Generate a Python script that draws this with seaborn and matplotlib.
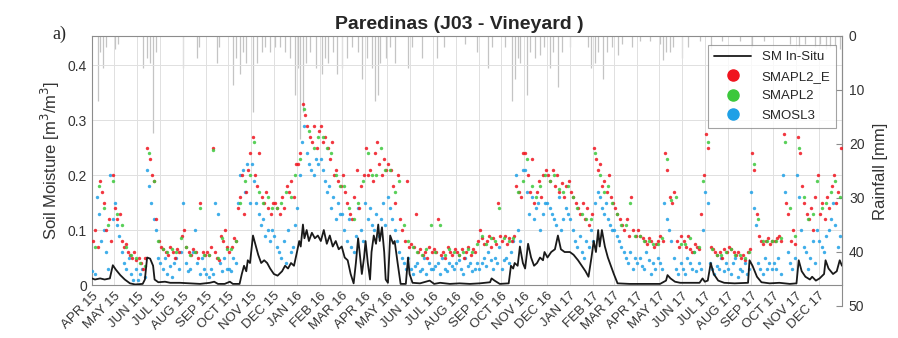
import matplotlib
matplotlib.use("Agg")
import matplotlib.pyplot as plt
from matplotlib.lines import Line2D
import numpy as np
import pandas as pd
import seaborn as sns

start = pd.Timestamp("2015-04-01")
end = pd.Timestamp("2018-01-01")
months = pd.date_range("2015-04-01", "2017-12-01", freq="MS")

# in-situ soil moisture: days after 2015-04-01 and value (m3/m3)
insitu_day = [0, 4, 11, 17, 24, 28, 32, 38, 44, 51, 58, 68, 71, 74, 78, 82, 84, 89, 98, 105,
              118, 131, 145, 158, 164, 169, 178, 185, 189, 198, 201, 204, 207, 209, 212, 216, 220, 223, 227, 231,
              235, 239, 244, 249, 255, 259, 263, 267, 271, 275, 278, 280, 283, 285, 288, 291, 295, 299, 303, 307,
              311, 315, 319, 323, 327, 331, 335, 339, 343, 347, 351, 354, 357, 359, 362, 365, 367, 370, 373, 375,
              378, 381, 384, 386, 389, 392, 394, 397, 400, 404, 406, 410, 414, 421, 424, 426, 430, 440, 453, 459,
              467, 480, 493, 507, 520, 534, 536, 540, 547, 559, 562, 565, 567, 571, 574, 578, 581, 585, 589, 593,
              597, 601, 605, 607, 611, 616, 621, 625, 629, 634, 641, 646, 652, 657, 662, 666, 670, 673, 676, 679,
              681, 684, 688, 692, 696, 700, 705, 721, 748, 762, 770, 772, 776, 782, 789, 802, 815, 819, 822, 826,
              830, 834, 840, 848, 862, 880, 882, 886, 892, 898, 909, 922, 936, 945, 948, 952, 957, 963, 966, 971,
              976, 982, 984, 988, 994, 999, 1003, 1006]
insitu_sm = [0.012, 0.010, 0.012, 0.010, 0.012, 0.036, 0.028, 0.018, 0.010, 0.003, 0.001, 0.002, 0.010, 0.050, 0.048, 0.035, 0.010, 0.005, 0.006, 0.004,
             0.004, 0.003, 0.002, 0.004, 0.006, 0.002, 0.002, 0.006, 0.002, 0.002, 0.020, 0.035, 0.025, 0.045, 0.040, 0.090, 0.070, 0.055, 0.040, 0.045,
             0.040, 0.030, 0.020, 0.017, 0.025, 0.035, 0.030, 0.040, 0.035, 0.060, 0.080, 0.070, 0.110, 0.085, 0.100, 0.080, 0.095, 0.085, 0.090, 0.080,
             0.100, 0.075, 0.090, 0.070, 0.080, 0.065, 0.070, 0.050, 0.045, 0.020, 0.003, 0.040, 0.085, 0.060, 0.020, 0.050, 0.080, 0.040, 0.010, 0.060,
             0.090, 0.075, 0.110, 0.080, 0.105, 0.060, 0.010, 0.004, 0.090, 0.075, 0.080, 0.040, 0.002, 0.002, 0.050, 0.020, 0.004, 0.003, 0.008, 0.002,
             0.004, 0.002, 0.003, 0.002, 0.003, 0.005, 0.012, 0.008, 0.002, 0.003, 0.035, 0.030, 0.040, 0.035, 0.070, 0.040, 0.030, 0.075, 0.050, 0.035,
             0.040, 0.050, 0.045, 0.060, 0.050, 0.060, 0.065, 0.090, 0.065, 0.060, 0.060, 0.055, 0.045, 0.035, 0.025, 0.015, 0.050, 0.080, 0.060, 0.100,
             0.070, 0.100, 0.070, 0.050, 0.035, 0.020, 0.003, 0.002, 0.002, 0.002, 0.008, 0.018, 0.012, 0.006, 0.004, 0.004, 0.004, 0.012, 0.006, 0.008,
             0.040, 0.020, 0.008, 0.004, 0.003, 0.004, 0.045, 0.035, 0.015, 0.005, 0.003, 0.004, 0.002, 0.003, 0.045, 0.025, 0.015, 0.010, 0.015, 0.008,
             0.012, 0.020, 0.045, 0.030, 0.020, 0.025, 0.045, 0.035]

# daily rainfall events: days after 2015-04-01 and mm
rain_day = [8, 11, 15, 19, 31, 35, 68, 74, 78, 82, 86, 122, 141, 143, 168, 170, 189, 193, 198, 202,
            207, 216, 221, 228, 232, 239, 245, 252, 259, 266, 272, 276, 279, 283, 287, 292, 300, 308, 313, 316,
            323, 329, 335, 342, 349, 357, 362, 369, 375, 380, 384, 386, 394, 400, 406, 424, 429, 443, 463, 472,
            500, 516, 531, 536, 554, 563, 567, 571, 574, 583, 587, 594, 601, 607, 614, 618, 625, 630, 641, 665,
            670, 675, 679, 685, 691, 697, 705, 711, 725, 735, 748, 762, 766, 770, 775, 779, 791, 799, 815, 831,
            845, 869, 885, 902, 936, 949, 956, 970, 976, 984, 990, 996, 1003]
rain_mm = [12, 3, 6, 2, 2.5, 1.5, 6, 4, 5, 18, 3, 6, 4, 2, 5, 2, 9, 4, 7, 3,
           5, 14, 5, 3, 2, 3, 2, 2, 3, 4, 11, 6, 19, 14, 5, 3, 6, 7, 4, 5,
           3, 7, 6, 4, 2, 3, 8, 4, 6, 12, 11, 5, 4, 2, 5, 6, 2, 4, 4, 2,
           1.5, 3, 6, 2, 2, 12, 8, 4, 5, 11, 3, 4, 3.5, 2, 6, 3, 9.5, 3, 2, 2,
           6, 5, 3, 8, 3, 2, 3.5, 1.5, 2, 1, 1, 1.5, 4.5, 3, 3, 2, 4, 2, 1, 2.5,
           1, 1, 2, 1, 1.5, 2, 1.5, 2, 1.5, 2.5, 2, 2, 2.5]

# satellite retrievals, one list per month (Apr 2015 .. Dec 2017)
smapl2_e = [
    [0.08, 0.10, 0.07, 0.19, 0.17, 0.15, 0.10, 0.12, 0.08, 0.20],
    [0.14, 0.12, 0.13, 0.08, 0.07, 0.075, 0.06, 0.055, 0.05, 0.06, 0.045],
    [0.05, 0.04, 0.03, 0.05, 0.25, 0.23, 0.20, 0.19, 0.12, 0.08],
    [0.07, 0.065, 0.06, 0.055, 0.07, 0.06, 0.05, 0.065, 0.06, 0.09],
    [0.10, 0.07, 0.06, 0.055, 0.065, 0.06, 0.05, 0.15, 0.06, 0.055],
    [0.06, 0.055, 0.07, 0.25, 0.06, 0.05, 0.045, 0.09, 0.08, 0.10, 0.07],
    [0.06, 0.07, 0.085, 0.08, 0.14, 0.16, 0.20, 0.13, 0.17, 0.21, 0.24],
    [0.27, 0.20, 0.18, 0.24, 0.16, 0.15, 0.17, 0.14, 0.13, 0.15],
    [0.15, 0.14, 0.13, 0.16, 0.14, 0.18, 0.17, 0.19, 0.16, 0.22],
    [0.22, 0.24, 0.33, 0.31, 0.29, 0.27, 0.26, 0.29, 0.25, 0.28],
    [0.29, 0.26, 0.27, 0.25, 0.23, 0.26, 0.20, 0.21, 0.19, 0.18],
    [0.20, 0.17, 0.15, 0.13, 0.12, 0.16, 0.21, 0.14, 0.18, 0.20],
    [0.25, 0.20, 0.21, 0.19, 0.24, 0.26, 0.22, 0.20, 0.23, 0.21],
    [0.22, 0.21, 0.18, 0.15, 0.20, 0.12, 0.10, 0.08, 0.19, 0.07],
    [0.075, 0.07, 0.13, 0.06, 0.065, 0.055, 0.06, 0.05, 0.07, 0.06],
    [0.065, 0.06, 0.12, 0.055, 0.06, 0.05, 0.07, 0.06, 0.055, 0.065],
    [0.06, 0.055, 0.065, 0.05, 0.06, 0.07, 0.055, 0.065, 0.06, 0.08],
    [0.10, 0.085, 0.075, 0.08, 0.09, 0.07, 0.085, 0.075, 0.15, 0.09],
    [0.08, 0.09, 0.075, 0.085, 0.08, 0.09, 0.18, 0.17, 0.16, 0.24],
    [0.24, 0.20, 0.17, 0.23, 0.15, 0.17, 0.19, 0.16, 0.20, 0.21],
    [0.20, 0.19, 0.21, 0.18, 0.20, 0.17, 0.185, 0.16, 0.18, 0.19],
    [0.17, 0.16, 0.15, 0.14, 0.13, 0.15, 0.12, 0.14, 0.11, 0.13],
    [0.25, 0.23, 0.21, 0.22, 0.18, 0.19, 0.17, 0.20, 0.16, 0.15],
    [0.14, 0.13, 0.12, 0.11, 0.10, 0.12, 0.09, 0.16, 0.10, 0.09],
    [0.10, 0.09, 0.085, 0.08, 0.075, 0.085, 0.08, 0.07, 0.075, 0.08],
    [0.09, 0.08, 0.24, 0.21, 0.16, 0.15, 0.17, 0.08, 0.07, 0.09],
    [0.08, 0.07, 0.09, 0.065, 0.06, 0.075, 0.07, 0.065, 0.13, 0.20],
    [0.275, 0.25, 0.07, 0.065, 0.06, 0.055, 0.06, 0.05, 0.065, 0.06],
    [0.07, 0.065, 0.06, 0.055, 0.06, 0.05, 0.055, 0.045, 0.06, 0.065],
    [0.24, 0.21, 0.13, 0.09, 0.08, 0.075, 0.08, 0.085, 0.075, 0.08],
    [0.08, 0.085, 0.09, 0.08, 0.275, 0.15, 0.13, 0.08, 0.10, 0.075],
    [0.27, 0.24, 0.18, 0.15, 0.13, 0.12, 0.14, 0.10, 0.16, 0.20],
    [0.13, 0.15, 0.12, 0.16, 0.14, 0.18, 0.20, 0.15, 0.17, 0.25],
]
smapl2 = [
    [0.07, 0.18, 0.14, 0.11, 0.19], [0.13, 0.11, 0.07, 0.055, 0.05], [0.04, 0.035, 0.24, 0.19, 0.08],
    [0.065, 0.06, 0.065, 0.06, 0.085], [0.07, 0.055, 0.06, 0.14, 0.055], [0.055, 0.245, 0.05, 0.085, 0.065],
    [0.065, 0.08, 0.15, 0.19, 0.20], [0.26, 0.17, 0.15, 0.16, 0.14], [0.14, 0.15, 0.17, 0.16, 0.20],
    [0.23, 0.32, 0.28, 0.25, 0.27], [0.27, 0.25, 0.24, 0.20, 0.18], [0.18, 0.14, 0.12, 0.15, 0.19],
    [0.24, 0.20, 0.20, 0.25, 0.21], [0.21, 0.17, 0.19, 0.11, 0.08], [0.07, 0.06, 0.055, 0.065, 0.11],
    [0.06, 0.11, 0.055, 0.065, 0.06], [0.055, 0.06, 0.065, 0.06, 0.075], [0.09, 0.075, 0.085, 0.08, 0.14],
    [0.085, 0.08, 0.085, 0.17, 0.19], [0.23, 0.18, 0.16, 0.18, 0.20], [0.19, 0.20, 0.175, 0.17, 0.18],
    [0.16, 0.14, 0.13, 0.12, 0.12], [0.24, 0.20, 0.17, 0.18, 0.15], [0.13, 0.11, 0.11, 0.15, 0.09],
    [0.09, 0.08, 0.08, 0.075, 0.075], [0.085, 0.23, 0.155, 0.16, 0.075], [0.075, 0.085, 0.06, 0.07, 0.19],
    [0.26, 0.065, 0.055, 0.055, 0.06], [0.065, 0.055, 0.055, 0.05, 0.06], [0.22, 0.12, 0.08, 0.08, 0.08],
    [0.08, 0.085, 0.26, 0.14, 0.09], [0.25, 0.16, 0.12, 0.13, 0.19], [0.14, 0.15, 0.17, 0.19, 0.16],
]
smosl3 = [
    [0.025, 0.02, 0.16, 0.13, 0.08, 0.10, 0.06, 0.03, 0.20, 0.12],
    [0.15, 0.11, 0.09, 0.06, 0.04, 0.03, 0.05, 0.02, 0.01, 0.03],
    [0.01, 0.02, 0.03, 0.015, 0.21, 0.18, 0.15, 0.12, 0.10, 0.05],
    [0.04, 0.03, 0.05, 0.02, 0.035, 0.015, 0.04, 0.05, 0.03, 0.06],
    [0.15, 0.04, 0.025, 0.03, 0.06, 0.10, 0.04, 0.02, 0.05, 0.03],
    [0.02, 0.015, 0.03, 0.02, 0.15, 0.13, 0.04, 0.025, 0.05, 0.03],
    [0.03, 0.025, 0.05, 0.04, 0.15, 0.20, 0.21, 0.17, 0.22, 0.15],
    [0.22, 0.19, 0.15, 0.13, 0.11, 0.12, 0.09, 0.10, 0.08, 0.10],
    [0.09, 0.07, 0.06, 0.05, 0.08, 0.04, 0.10, 0.06, 0.07, 0.11],
    [0.14, 0.20, 0.26, 0.29, 0.24, 0.22, 0.21, 0.20, 0.23, 0.22],
    [0.23, 0.21, 0.19, 0.17, 0.18, 0.14, 0.16, 0.12, 0.15, 0.13],
    [0.13, 0.10, 0.08, 0.12, 0.07, 0.06, 0.09, 0.14, 0.10, 0.08],
    [0.15, 0.12, 0.14, 0.11, 0.10, 0.13, 0.09, 0.12, 0.15, 0.11],
    [0.16, 0.14, 0.12, 0.10, 0.08, 0.06, 0.05, 0.04, 0.03, 0.05],
    [0.03, 0.02, 0.035, 0.04, 0.025, 0.03, 0.05, 0.02, 0.04, 0.03],
    [0.03, 0.035, 0.04, 0.02, 0.05, 0.03, 0.025, 0.04, 0.035, 0.03],
    [0.04, 0.045, 0.03, 0.02, 0.05, 0.035, 0.04, 0.025, 0.03, 0.04],
    [0.03, 0.04, 0.05, 0.035, 0.06, 0.045, 0.03, 0.05, 0.04, 0.07],
    [0.03, 0.045, 0.05, 0.04, 0.06, 0.08, 0.20, 0.10, 0.08, 0.21],
    [0.21, 0.17, 0.13, 0.16, 0.12, 0.14, 0.15, 0.10, 0.13, 0.15],
    [0.15, 0.14, 0.13, 0.12, 0.11, 0.16, 0.10, 0.12, 0.14, 0.13],
    [0.12, 0.10, 0.08, 0.07, 0.09, 0.06, 0.05, 0.08, 0.07, 0.10],
    [0.08, 0.15, 0.17, 0.16, 0.14, 0.13, 0.15, 0.12, 0.11, 0.10],
    [0.10, 0.09, 0.08, 0.07, 0.06, 0.05, 0.04, 0.06, 0.03, 0.05],
    [0.04, 0.05, 0.035, 0.03, 0.06, 0.045, 0.02, 0.04, 0.03, 0.05],
    [0.04, 0.03, 0.15, 0.12, 0.10, 0.08, 0.05, 0.03, 0.02, 0.04],
    [0.03, 0.02, 0.05, 0.04, 0.03, 0.06, 0.025, 0.04, 0.03, 0.10],
    [0.17, 0.15, 0.04, 0.03, 0.02, 0.035, 0.03, 0.05, 0.025, 0.04],
    [0.03, 0.02, 0.04, 0.05, 0.015, 0.03, 0.025, 0.04, 0.02, 0.03],
    [0.17, 0.14, 0.11, 0.04, 0.03, 0.02, 0.05, 0.03, 0.04, 0.03],
    [0.04, 0.03, 0.05, 0.02, 0.20, 0.17, 0.06, 0.04, 0.03, 0.05],
    [0.20, 0.16, 0.10, 0.07, 0.06, 0.03, 0.05, 0.08, 0.04, 0.10],
    [0.08, 0.07, 0.06, 0.09, 0.10, 0.12, 0.15, 0.11, 0.07, 0.09],
]

colors = {"SMAPL2_E": "#f0141e", "SMAPL2": "#3cc83c", "SMOSL3": "#1ea0e6"}


def monthly_frame(values, name, offset):
    rows = []
    for m, vals in zip(months, values):
        mlen = (m + pd.offsets.MonthBegin(1) - m).days
        n = len(vals)
        for k, v in enumerate(vals):
            rows.append((m + pd.Timedelta(days=(k + offset) * mlen / n), v, name))
    return pd.DataFrame(rows, columns=["date", "sm", "product"])


sat = pd.concat([
    monthly_frame(smosl3, "SMOSL3", 0.2),
    monthly_frame(smapl2_e, "SMAPL2_E", 0.5),
    monthly_frame(smapl2, "SMAPL2", 0.6),
])
insitu = pd.DataFrame({"date": start + pd.to_timedelta(insitu_day, unit="D"), "sm": insitu_sm})
rain = pd.DataFrame({"date": start + pd.to_timedelta(rain_day, unit="D"), "mm": rain_mm})

sns.set_style("white")
plt.rcParams["font.family"] = ["Liberation Sans", "DejaVu Sans"]

fig = plt.figure(figsize=(8.98, 3.38), dpi=100)
ax = fig.add_axes([0.1024, 0.1568, 0.8352, 0.7367])
ax2 = fig.add_axes([0.1024, 0.0947, 0.8352, 0.7988])

# rainfall hanging from the top on its own (taller) axis
ax2.vlines(rain["date"], 0, rain["mm"], color="#c4c4c4", lw=0.9)
ax2.set_ylim(50, 0)
ax2.set_xlim(start, end)
ax2.yaxis.tick_right()
ax2.yaxis.set_label_position("right")
ax2.set_yticks([0, 10, 20, 30, 40, 50])
ax2.set_xticks([])
for s in ["left", "top", "bottom"]:
    ax2.spines[s].set_visible(False)
ax2.spines["right"].set_color("#8c8c8c")
ax2.tick_params(axis="y", direction="in", length=4, colors="#8c8c8c", labelcolor="#333333", labelsize=10, pad=5)
ax2.set_ylabel("Rainfall [mm]", fontsize=12, color="#333333", labelpad=6)

ax.set_zorder(ax2.get_zorder() + 1)
ax.patch.set_visible(False)

for name in ["SMOSL3", "SMAPL2_E", "SMAPL2"]:
    sns.scatterplot(data=sat[sat["product"] == name], x="date", y="sm", color=colors[name],
                    s=6, linewidth=0, alpha=0.85, ax=ax, legend=False, zorder=3)
sns.lineplot(data=insitu, x="date", y="sm", color="#1a1a1a", lw=1.3, ax=ax, zorder=4)

ax.set_xlim(start, end)
ax.set_ylim(0, 0.453)
ax.set_yticks([0, 0.1, 0.2, 0.3, 0.4])
ax.set_yticklabels(["0", "0.1", "0.2", "0.3", "0.4"])
ax.set_xticks(months)
ax.set_xticklabels([m.strftime("%b %y").upper() for m in months], rotation=45, ha="right",
                   rotation_mode="anchor", fontsize=9.5)
ax.grid(True, color="#e0e0e0", lw=0.7)
for s in ax.spines.values():
    s.set_color("#8c8c8c")
    s.set_linewidth(0.8)
ax.tick_params(axis="both", direction="in", length=3, colors="#8c8c8c", labelcolor="#333333")
ax.tick_params(axis="y", labelsize=10)
ax.set_xlabel("")
ax.set_ylabel("Soil Moisture [m$^3$/m$^3$]", fontsize=12, color="#333333", labelpad=4)
ax.set_title("Paredinas (J03 - Vineyard )", fontsize=14, fontweight="bold", pad=5, x=0.49)
fig.text(0.058, 0.885, "a)", fontsize=13, family="Liberation Serif")

handles = [Line2D([0], [0], color="#1a1a1a", lw=1.3, label="SM In-Situ")]
for name in ["SMAPL2_E", "SMAPL2", "SMOSL3"]:
    handles.append(Line2D([0], [0], marker="o", ls="", color=colors[name], markersize=8, label=name))
leg = ax.legend(handles=handles, loc="upper right", bbox_to_anchor=(1.0015, 0.99), fontsize=9.5,
                frameon=True, fancybox=False, edgecolor="#8c8c8c", handlelength=2.8,
                borderpad=0.45, labelspacing=0.55, handletextpad=0.8)
leg.get_frame().set_linewidth(0.8)

fig.savefig("out.png", dpi=100, facecolor="white")
